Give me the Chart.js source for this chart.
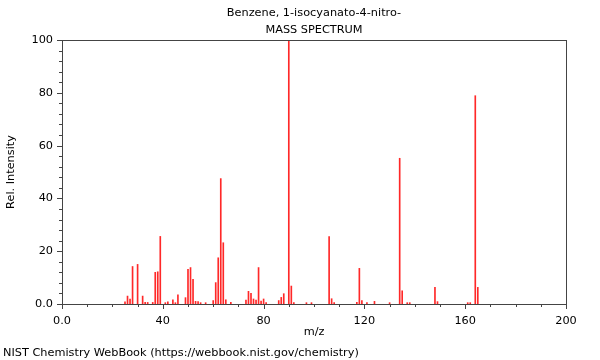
<!DOCTYPE html>
<html>
<head>
<meta charset="utf-8">
<script src="https://cdn.jsdelivr.net/npm/chart.js@4"></script>
<style>
  body { margin: 0; background: #fff; }
  #wrap { width: 600px; height: 360px; }
</style>
</head>
<body>
<div id="wrap"><canvas id="ms"></canvas></div>
<script>
const titleLines = ['Benzene, 1-isocyanato-4-nitro-', 'MASS SPECTRUM']
const footer = 'NIST Chemistry WebBook (https://webbook.nist.gov/chemistry)'

// m/z and relative intensity
const mz = [25, 26, 27, 28, 30, 32, 33, 34, 36, 37, 38, 39, 41, 42, 44, 45, 46,
  49, 50, 51, 52, 53, 54, 55, 57, 60, 61, 62, 63, 64, 65, 67,
  73, 74, 75, 76, 77, 78, 79, 80, 81, 86, 87, 88, 90, 91, 92, 97, 99,
  106, 107, 108, 117, 118, 119, 121, 124, 130, 134, 135, 137, 138,
  148, 149, 161, 162, 164, 165]
const intensity = [0.8, 3.0, 1.9, 14.2, 15.0, 3.0, 0.6, 0.6, 0.6, 12.0, 12.2, 25.6, 0.5, 0.8, 1.6, 0.5, 3.5,
  2.4, 13.1, 13.8, 9.3, 1.0, 0.9, 0.5, 0.5, 1.3, 8.1, 17.5, 47.5, 23.2, 1.6, 0.6,
  1.5, 4.8, 4.0, 1.9, 1.5, 13.8, 1.1, 1.9, 0.5, 1.3, 2.5, 3.9, 100, 6.8, 0.5, 0.5, 0.5,
  25.5, 2.0, 0.5, 0.6, 13.5, 1.3, 0.5, 1.0, 0.5, 55.2, 5.0, 0.5, 0.5,
  6.3, 0.9, 0.5, 0.5, 78.9, 6.3]

const xLabelEvery = 40
const yLabelEvery = 20

const font = 'DejaVu Sans'

let points = mz.map((m, i) => ({ x: m, y: intensity[i] }))

// frame, tick marks and the extra texts
const decor = {
  id: 'decor',
  afterDraw(chart) {
    const c = chart.ctx
    const a = chart.chartArea
    const xs = chart.scales.x
    const ys = chart.scales.y
    c.save()
    c.strokeStyle = '#444'
    c.lineWidth = 1
    c.strokeRect(Math.round(a.left) + 0.5, Math.round(a.top) + 0.5,
      Math.round(a.right - a.left), Math.round(a.bottom - a.top))
    c.beginPath()
    for (let v = 0; v <= 200; v += 10) {
      const px = Math.round(xs.getPixelForValue(v)) + 0.5
      const len = v % xLabelEvery === 0 ? 5 : 3
      c.moveTo(px, Math.round(a.bottom))
      c.lineTo(px, Math.round(a.bottom) + len)
    }
    for (let v = 0; v <= 100; v += 4) {
      const py = Math.round(ys.getPixelForValue(v)) + 0.5
      const len = v % yLabelEvery === 0 ? 5 : 3
      c.moveTo(Math.round(a.left), py)
      c.lineTo(Math.round(a.left) - len, py)
    }
    c.stroke()

    c.fillStyle = '#000'
    c.font = '11.3px "' + font + '"'
    c.textAlign = 'center'
    c.textBaseline = 'middle'
    const cx = (a.left + a.right) / 2
    c.fillText(titleLines[0], cx, 13)
    c.fillText(titleLines[1], cx, 30)
    c.fillText('m/z', cx, 332)
    c.textAlign = 'left'
    c.fillText(footer, 3, 353.5)
    c.translate(11, (a.top + a.bottom) / 2)
    c.rotate(-Math.PI / 2)
    c.textAlign = 'center'
    c.fillText('Rel. Intensity', 0, 0)
    c.restore()
  }
}

new Chart(document.getElementById('ms'), {
  type: 'bar',
  data: {
    datasets: [{
      data: points,
      backgroundColor: 'rgb(255, 40, 40)',
      borderWidth: 0,
      barThickness: 1
    }]
  },
  options: {
    responsive: true,
    maintainAspectRatio: false,
    animation: false,
    layout: { padding: { top: 40, right: 34, left: 0, bottom: 0 } },
    plugins: { legend: { display: false }, tooltip: { enabled: false } },
    scales: {
      x: {
        type: 'linear',
        min: 0,
        max: 200,
        offset: false,
        grid: { display: false, drawTicks: false },
        border: { display: false },
        afterFit: s => { s.height = 56 },
        ticks: {
          stepSize: 10,
          autoSkip: false,
          maxRotation: 0,
          padding: 10,
          color: '#000',
          font: { family: font, size: 11.3 },
          callback: v => v % xLabelEvery === 0 ? (v === 0 ? '0.0' : String(v)) : ''
        }
      },
      y: {
        min: 0,
        max: 100,
        grid: { display: false, drawTicks: false },
        border: { display: false },
        afterFit: s => { s.width = 62 },
        ticks: {
          stepSize: 4,
          autoSkip: false,
          padding: 9,
          color: '#000',
          font: { family: font, size: 11.3 },
          callback: v => v % yLabelEvery === 0 ? (v === 0 ? '0.0' : String(v)) : ''
        }
      }
    }
  },
  plugins: [decor]
})
</script>
</body>
</html>
